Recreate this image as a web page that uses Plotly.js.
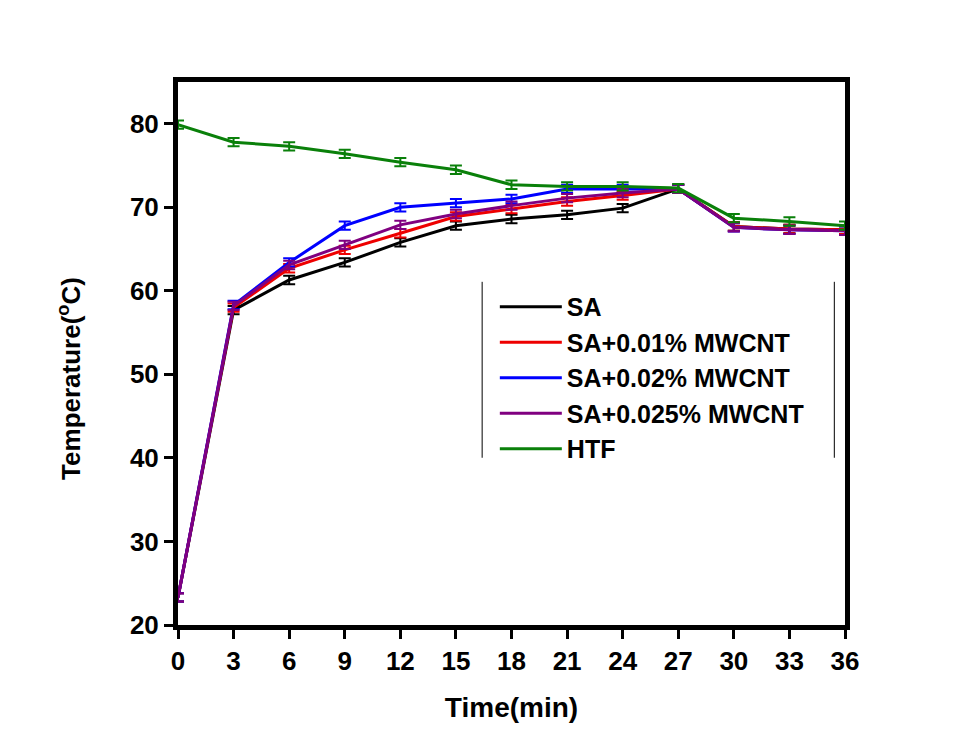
<!DOCTYPE html>
<html><head><meta charset="utf-8">
<script src="https://cdn.plot.ly/plotly-3.0.1.min.js"></script>
<style>body{margin:0;background:#fff}#chart{width:963px;height:745px}</style>
</head><body><div id="chart"></div>
<script>
const time = [0, 3, 6, 9, 12, 15, 18, 21, 24, 27, 30, 33, 36];
const saTemp      = [23.3, 57.7, 61.3, 63.4, 65.8, 67.8, 68.6, 69.1, 69.9, 72.2, 67.7, 67.4, 67.3];
const sa001Temp   = [23.3, 58.0, 62.7, 64.9, 66.9, 68.9, 69.8, 70.7, 71.4, 72.2, 67.7, 67.4, 67.3];
const sa002Temp   = [23.3, 58.3, 63.4, 67.8, 70.0, 70.5, 71.0, 72.2, 72.2, 72.2, 67.6, 67.3, 67.2];
const sa0025Temp  = [23.3, 58.2, 63.1, 65.5, 67.9, 69.2, 70.2, 71.1, 71.7, 72.2, 67.6, 67.3, 67.2];
const htfTemp     = [79.9, 77.8, 77.3, 76.4, 75.4, 74.5, 72.7, 72.5, 72.5, 72.3, 68.7, 68.3, 67.8];
const errSize = 0.5;
const names = ['SA', 'SA+0.01% MWCNT', 'SA+0.02% MWCNT', 'SA+0.025% MWCNT', 'HTF'];
const colors = ['#000000', '#ee0000', '#0000ff', '#800080', '#0a800a'];
const series = [saTemp, sa001Temp, sa002Temp, sa0025Temp, htfTemp];

const traces = series.map((ys, i) => ({
  x: time, y: ys, name: names[i], type: 'scatter', mode: 'lines',
  line: {color: colors[i], width: 3},
  error_y: {type: 'constant', value: errSize, color: colors[i], thickness: 2, width: 6}
}));

const font = {family: 'Arial, "Liberation Sans", sans-serif', color: '#000', weight: 'bold'};
const layout = {
  width: 963, height: 745,
  paper_bgcolor: '#fff', plot_bgcolor: '#fff',
  margin: {l: 178, r: 118, t: 82, b: 120},
  showlegend: true,
  legend: {x: 0.475, y: 0.628, xanchor: 'left', yanchor: 'top', bgcolor: 'rgba(0,0,0,0)',
           itemwidth: 62,
           font: Object.assign({}, font, {size: 25})},
  xaxis: {range: [0, 36], tickvals: time, ticktext: time.map(String),
          showline: true, linewidth: 5, linecolor: '#000', mirror: true,
          ticks: 'outside', ticklen: 9, tickwidth: 3, tickcolor: '#000',
          showgrid: false, zeroline: false,
          tickfont: Object.assign({}, font, {size: 26}),
          title: {text: 'Time(min)', font: Object.assign({}, font, {size: 28}), standoff: 24}},
  yaxis: {range: [20, 85], tickvals: [20, 30, 40, 50, 60, 70, 80],
          showline: true, linewidth: 5, linecolor: '#000', mirror: true,
          ticks: 'outside', ticklen: 9, tickwidth: 3, tickcolor: '#000',
          showgrid: false, zeroline: false,
          tickfont: Object.assign({}, font, {size: 26})},
  annotations: [
    {text: 'Temperature(<sup>o</sup>C)', xref: 'paper', yref: 'paper', x: -0.162, y: 0.455,
     xanchor: 'center', yanchor: 'middle', textangle: -90, showarrow: false,
     font: Object.assign({}, font, {size: 26})}
  ],
  shapes: [
    {type: 'line', xref: 'paper', yref: 'paper', x0: 0.456, x1: 0.456, y0: 0.308, y1: 0.632, line: {color: '#000', width: 1}},
    {type: 'line', xref: 'paper', yref: 'paper', x0: 0.984, x1: 0.984, y0: 0.308, y1: 0.632, line: {color: '#000', width: 1}}
  ]
};
Plotly.newPlot('chart', traces, layout, {displayModeBar: false});
</script></body></html>
